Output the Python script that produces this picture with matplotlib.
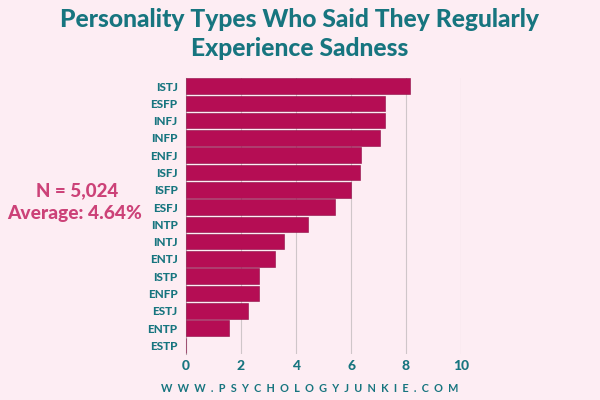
import matplotlib
matplotlib.use('Agg')
import matplotlib.pyplot as plt

types = ['ISTJ','ESFP','INFJ','INFP','ENFJ','ISFJ','ISFP','ESFJ','INTP','INTJ','ENTJ','ISTP','ENFP','ESTJ','ENTP','ESTP']
values = [8.15,7.25,7.25,7.05,6.35,6.33,6.0,5.42,4.44,3.58,3.24,2.67,2.67,2.26,1.58,0.0]
ticks = [0,2,4,6,8,10]
title = 'Personality Types Who Said They Regularly\nExperience Sadness'
footer = 'W  W  W  .  P  S  Y  C  H  O  L  O  G  Y  J  U  N  K  I  E  .  C  O  M'
bg = '#FDEDF3'; teal = '#17757F'; bar = '#B50D54'; pink = '#CC4278'

plt.rcParams['font.family'] = ['Lato', 'DejaVu Sans']
fig = plt.figure(figsize=(6,4), dpi=100, facecolor=bg)
ax = fig.add_axes([186/600, 1-354/400, (461-186)/600, (354-77.5)/400], facecolor=bg)
ypos = list(range(len(types)))
ax.barh(ypos, values, height=0.9, color=bar, edgecolor='#8E0B45', linewidth=0.4, zorder=3)
ax.set_ylim(len(types)-0.5, -0.5)
ax.set_xlim(0,10)
ax.set_yticks(ypos, types, fontsize=8.5, fontweight='black', color=teal)
ax.set_xticks(ticks, [str(t) for t in ticks], fontsize=10, fontweight='black', color=teal)
ax.tick_params(length=0, pad=4)
ax.tick_params(axis='y', pad=6)
ax.grid(axis='x', color='#CFC6C9', linewidth=0.8, zorder=0)
for s in ['top','right','bottom']:
    ax.spines[s].set_visible(False)
ax.spines['left'].set_color('#B5A9AE')
ax.spines['left'].set_linewidth(0.8)
fig.text(0.5, 1-34/400, title, ha='center', va='center', fontsize=17.7, fontweight='black', color=teal, linespacing=1.28)
fig.text(77/600, 1-191/400, 'N = 5,024', ha='center', va='center', fontsize=13.5, fontweight='black', color=pink)
fig.text(75/600, 1-213/400, 'Average: 4.64%', ha='center', va='center', fontsize=13.8, fontweight='black', color=pink)
fig.text(310/600, 1-389/400, footer, ha='center', va='center', fontsize=7.85, fontweight='bold', color=teal)
fig.savefig('out.png', dpi=100, facecolor=bg)
